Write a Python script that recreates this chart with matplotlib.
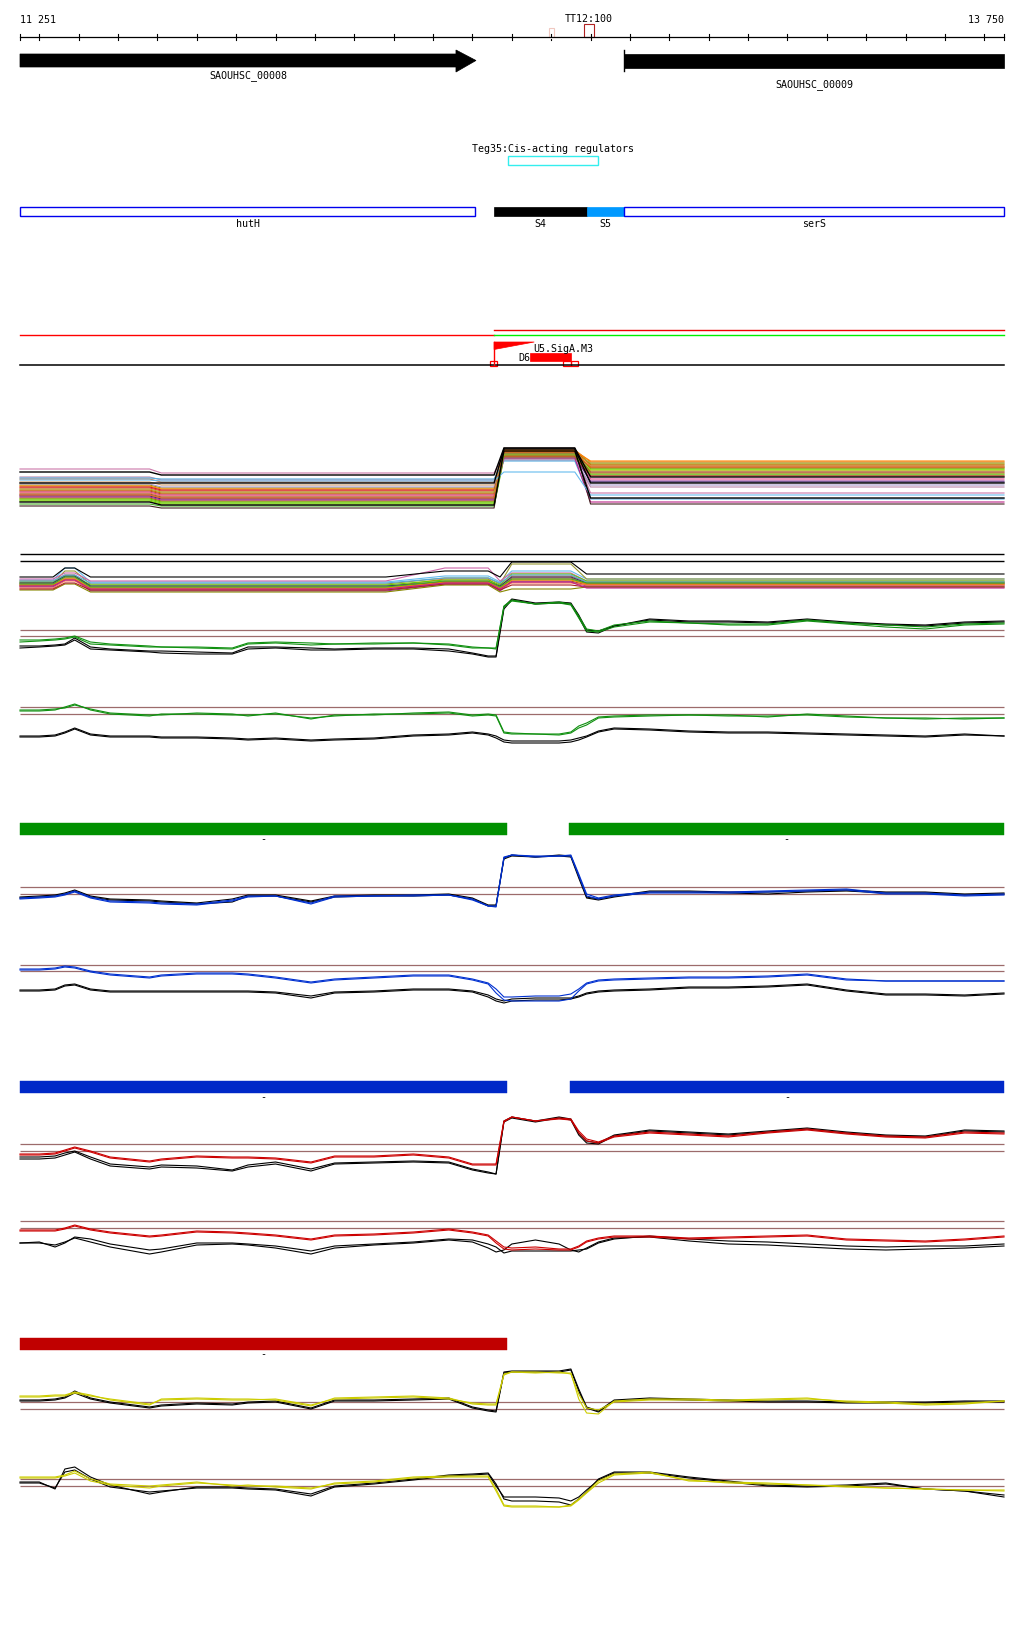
import matplotlib
matplotlib.use('Agg')
import matplotlib.pyplot as plt
from matplotlib.patches import Rectangle, Polygon

# ---------------- data ----------------
START, END = 11251, 13750
TICKS = list(range(11300, 13701, 100))
MARK_TT12 = (12683, 12709)
MARK_FAINT = (12594, 12607)

GENE_NAMES = ["SAOUHSC_00008", "SAOUHSC_00009"]
GENE_START = [11251, 12785]
GENE_END = [12409, 13750]

FEAT_NAMES = ["hutH", "S4", "S5", "serS"]
FEAT_START = [11251, 12455, 12691, 12785]
FEAT_END = [12407, 12691, 12785, 13750]
FEAT_STYLE = ["outline", "black", "lightblue", "outline"]

TEG_NAME = "Teg35:Cis-acting regulators"
TEG_START, TEG_END = 12490, 12719

PROM_POS = 12455
PROM_FLAG_END = 12557
D6_START, D6_END = 12546, 12650
SMALL_BOXES = [(12445, 12463), (12630, 12650), (12650, 12668)]

BAR_GREEN = [(11251, 12488), (12645, 13750)]
BAR_BLUE = [(11251, 12488), (12648, 13750)]
BAR_RED = [(11251, 12488)]

# common x grid (bp) for the profile tracks
X = [11251, 11300, 11340, 11365, 11390, 11430, 11480, 11580, 11610, 11700,
     11790, 11830, 11900, 11990, 12050, 12150, 12250, 12340, 12400, 12440,
     12460, 12480, 12500, 12560, 12620, 12650, 12670, 12690, 12720, 12760,
     12850, 12950, 13050, 13150, 13250, 13350, 13450, 13550, 13650, 13750]

G1_green_a = [19,19,20,21,23,17,15,13,12,12,11,16,17,16,15,16,16,15,12,11,11,53,59,55,57,55,43,30,28,34,38,36,35,35,39,36,34,32,35,36]
G1_green_b = [17,18,19,20,22,15,14,12,12,11,10,15,16,14,15,15,16,14,11,11,10,52,58,55,56,54,41,28,27,32,37,36,34,34,38,35,32,30,34,35]
G1_black_a = [13,13,14,15,21,12,10,8,8,7,6,12,12,11,10,11,11,10,6,3,3,52,60,56,57,56,44,29,28,33,40,38,38,37,40,37,35,34,37,38]
G1_black_b = [11,12,13,14,19,10,9,7,6,5,5,10,11,9,9,10,10,8,5,2,2,50,59,55,56,55,42,27,26,33,39,37,37,36,39,36,34,33,36,37]

G2_green_a = [39,39,40,41,44,40,36,34,34,36,35,33,36,30,34,34,36,37,34,35,34,17,16,15,15,17,23,26,32,33,34,34,34,32,35,33,31,30,31,31]
G2_green_b = [38,38,39,42,45,39,35,33,35,35,34,34,35,31,33,35,35,36,33,34,33,16,15,15,14,16,21,24,31,32,33,34,33,33,34,32,31,31,30,31]
G2_black_a = [13,13,14,17,21,15,13,13,12,12,11,10,11,9,10,11,14,15,17,15,13,9,8,8,8,9,11,13,18,21,20,18,17,17,16,15,14,13,15,13]
G2_black_b = [12,12,13,16,20,14,12,12,11,11,10,9,10,8,9,10,13,14,16,14,11,7,6,6,6,7,9,12,17,20,19,17,16,16,15,14,13,12,14,13]

B1_blue_a = [11,12,13,15,18,12,8,7,6,5,9,13,13,6,13,13,14,14,10,3,3,52,54,53,53,54,35,15,11,14,17,17,17,18,19,20,16,16,14,15]
B1_blue_b = [10,11,12,14,17,11,7,6,5,4,8,12,13,5,12,13,13,14,9,3,2,51,54,52,53,53,33,13,10,13,16,16,16,17,18,19,15,15,13,14]
B1_black_a = [12,13,14,16,19,13,10,9,8,6,10,14,14,8,13,14,14,15,11,4,4,51,54,52,54,53,33,12,10,13,18,18,17,17,18,19,17,17,15,16]
B1_black_b = [11,12,13,15,18,12,9,8,7,5,7,13,13,7,12,13,13,14,10,3,3,50,53,52,53,52,31,11,9,12,17,17,16,15,17,18,16,16,14,15]

B2_blue_a = [40,40,41,43,42,38,35,32,34,36,36,35,32,27,30,32,34,34,30,26,20,12,12,13,13,15,20,26,29,30,31,32,32,33,35,30,28,28,28,28]
B2_blue_b = [39,39,40,42,41,37,34,31,33,35,35,34,31,26,29,31,33,33,29,25,16,9,8,8,8,10,18,25,28,29,30,31,31,32,34,29,28,28,28,28]
B2_black_a = [19,19,20,24,25,20,18,18,18,18,18,18,17,13,17,18,20,20,18,14,10,8,10,11,11,11,13,16,18,19,20,22,22,23,25,19,15,15,14,16]
B2_black_b = [18,18,19,23,24,19,17,17,17,17,17,17,16,11,16,17,19,19,17,12,8,6,8,9,9,10,12,15,17,18,19,21,21,22,24,18,14,14,13,15]

R1_red_a = [25,25,26,29,32,28,22,18,20,23,22,22,21,17,23,23,25,22,15,15,15,58,62,58,61,60,48,40,37,43,47,45,43,47,50,46,43,42,47,46]
R1_red_b = [24,24,25,28,31,27,21,17,19,22,21,21,20,16,22,22,24,21,14,14,14,57,62,58,60,59,46,38,36,42,46,44,42,46,49,45,42,41,46,45]
R1_black_a = [22,22,23,26,28,22,15,12,14,13,9,14,17,10,16,17,18,17,10,7,5,58,62,58,62,60,46,38,36,44,49,47,45,48,51,47,44,43,49,48]
R1_black_b = [20,20,21,24,27,20,13,10,12,11,8,12,15,8,15,16,17,16,9,6,5,57,61,57,61,59,44,36,35,43,48,46,44,47,50,46,43,42,48,47]

R2_red_a = [34,34,34,36,39,35,32,28,29,33,32,31,29,25,29,30,32,35,32,29,23,17,16,17,15,15,18,23,26,28,28,26,27,28,29,25,24,23,25,28]
R2_red_b = [33,33,33,35,38,34,31,27,28,32,31,30,28,24,28,29,31,34,31,28,21,15,14,15,14,14,17,22,25,27,27,25,26,27,28,24,23,22,24,27]
R2_black_a = [21,22,17,21,27,25,20,14,15,21,21,20,18,13,18,20,22,25,24,20,17,11,13,13,13,13,14,15,21,25,28,25,23,22,20,18,17,18,18,20]
R2_black_b = [21,21,19,22,26,22,17,10,12,19,20,19,16,10,16,19,21,24,22,16,12,14,20,24,20,14,12,16,22,26,27,23,20,19,17,15,14,15,16,18]

Y1_yellow_a = [28,28,29,29,32,29,24,19,25,26,25,25,24,18,26,27,28,26,20,19,19,49,52,52,51,51,25,11,10,23,25,25,24,25,26,22,21,19,20,23]
Y1_yellow_b = [27,27,28,28,31,28,25,20,24,25,24,24,25,19,25,26,27,25,21,20,20,50,52,51,52,50,30,16,14,22,24,24,23,24,25,23,22,20,21,23]
Y1_black_a = [24,24,25,27,33,26,22,17,19,21,20,22,23,16,24,24,25,26,17,14,13,52,53,53,53,55,35,17,13,24,26,25,24,23,23,22,22,22,23,23]
Y1_black_b = [23,23,24,26,31,25,21,16,18,20,19,21,22,15,23,23,24,25,16,13,12,51,52,52,52,54,33,16,12,23,25,24,23,22,22,21,21,21,22,22]

Y2_yellow_a = [42,42,42,44,48,40,35,33,34,37,33,34,32,30,36,38,42,43,43,43,30,14,13,13,12,14,20,27,38,45,47,38,37,36,34,33,31,30,29,29]
Y2_yellow_b = [41,41,41,43,46,38,34,31,33,36,34,33,33,31,35,37,41,42,42,42,28,13,12,12,12,13,19,26,36,44,46,39,36,35,34,32,31,30,29,28]
Y2_black_a = [37,37,30,50,52,42,34,25,27,32,32,31,30,25,33,36,40,44,45,46,35,20,18,18,17,14,20,27,40,47,47,42,38,34,33,34,36,30,28,22]
Y2_black_b = [36,36,31,47,49,40,32,27,28,31,31,30,29,23,32,35,39,43,44,45,33,22,22,22,21,18,22,29,39,46,46,41,37,33,32,33,35,30,28,24]

# multi-series bundle 1: (colour, left level, left level after 11600, middle level, right level)
BUNDLE1_X = [11251, 11580, 11610, 12455, 12480, 12660, 12700, 13750]
BUNDLE1 = [
    ("#cc77aa", 45, 41, 60, 21), ("#e07030", 35, 32, 64, 52), ("#999900", 29, 26, 63, 50),
    ("#66cc00", 15, 12, 61, 45), ("#aa5522", 23, 20, 59, 47), ("#ee3333", 26, 23, 62, 41),
    ("#993399", 19, 16, 57, 33), ("#cc9966", 32, 29, 55, 48), ("#333366", 18, 15, 60, 32),
    ("#ff7755", 21, 18, 58, 43), ("#44aa22", 10, 8, 56, 39), ("#bb88aa", 37, 34, 54, 27),
    ("#cc6600", 24, 21, 64, 49), ("#888800", 16, 13, 62, 46), ("#ff8800", 28, 25, 63, 53),
    ("#dd4488", 22, 19, 59, 35), ("#88dd00", 13, 10, 57, 44), ("#aa99cc", 30, 27, 55, 29),
    ("#996633", 20, 17, 61, 42), ("#cc2222", 27, 24, 58, 38), ("#55aadd", 36, 35, 53, 15),
    ("#bb2288", 17, 14, 56, 12), ("#aaaa33", 25, 22, 60, 51), ("#ee6622", 19, 16, 62, 47),
    ("#442222", 8, 6, 66, 10), ("#77cc11", 14, 11, 59, 40), ("#66bbee", 34, 33, 42, 19),
    ("#000000", 42, 39, 66, 37), ("#000000", 31, 31, 65, 31), ("#000000", 12, 9, 63, 16),
]

# multi-series bundle 2: (colour, A, bump, B, pre-peak, middle, right)
BUNDLE2_X = [11251, 11335, 11365, 11390, 11430, 12180, 12330, 12440, 12470, 12500, 12650, 12690, 13750]
BUNDLE2 = [
    ("#66bbee", 19, 31, 17, 23, 28, 20), ("#999933", 16, 28, 15, 21, 35, 20),
    ("#cc66aa", 20, 26, 18, 31, 26, 18), ("#e07030", 18, 24, 12, 20, 23, 17),
    ("#dd3333", 14, 22, 10, 17, 21, 15), ("#66cc00", 17, 23, 14, 19, 25, 18),
    ("#aa5522", 13, 20, 9, 16, 18, 14), ("#cc9966", 15, 21, 11, 18, 20, 16),
    ("#993399", 12, 19, 8, 15, 17, 13), ("#333366", 16, 23, 13, 17, 22, 16),
    ("#888800", 9, 15, 7, 14, 10, 12), ("#ff7755", 11, 18, 10, 16, 16, 14),
    ("#55aadd", 18, 24, 16, 21, 24, 17), ("#ee8800", 14, 20, 11, 17, 19, 15),
    ("#aa2222", 10, 16, 9, 15, 14, 12), ("#44aa22", 15, 22, 12, 18, 20, 16),
    ("#bb2288", 13, 19, 10, 16, 17, 11), ("#000000", 22, 31, 22, 28, 37, 25),
]
BUNDLE2_REF = [45, 38]

THRESH_G1 = [29, 23]
THRESH_G2 = [42, 35]
THRESH_B1 = [22, 15]
THRESH_B2 = [44, 38]
THRESH_R1 = [35, 28]
THRESH_R2 = [43, 36]
THRESH_Y1 = [22, 15]
THRESH_Y2 = [40, 33]

# ---------------- drawing ----------------
W, H = 1024, 1640
PX0, PX1 = 20, 1004
BPP = (END - START) / (PX1 - PX0)
XLIM = (START - PX0 * BPP, START + (W - PX0) * BPP)
MONO = "DejaVu Sans Mono"
FS = 7.2
BROWN = "#9c6b6b"
LW = 0.8

fig = plt.figure(figsize=(W / 100, H / 100), dpi=100)
ax = fig.add_axes([0, 0, 1, 1])
ax.set_xlim(XLIM)
ax.set_ylim(H, 0)
ax.axis('off')


def px(n):
    return n * BPP


# ruler
ax.text(START, 20, "11 251", fontsize=FS, family=MONO, ha='left', va='center')
ax.text(END, 20, "13 750", fontsize=FS, family=MONO, ha='right', va='center')
ax.text((MARK_TT12[0] + MARK_TT12[1]) / 2, 19, "TT12:100", fontsize=FS, family=MONO, ha='center', va='center')
ax.plot([START, END], [38, 38], color='black', lw=0.9)
for t in [START] + TICKS + [END]:
    if t == 12600:
        ax.plot([t, t], [35, 36.5], color='black', lw=0.8)
        ax.plot([t, t], [39.5, 41], color='black', lw=0.8)
    else:
        ax.plot([t, t], [35, 41], color='black', lw=0.8)
ax.add_patch(Rectangle((MARK_TT12[0], 25), MARK_TT12[1] - MARK_TT12[0], 13, fill=False, ec='#b02020', lw=0.8))
ax.add_patch(Rectangle((MARK_FAINT[0], 29), MARK_FAINT[1] - MARK_FAINT[0], 9, fill=False, ec='#f0c8c0', lw=0.8))

# genes
g0s, g0e = GENE_START[0], GENE_END[0]
ax.add_patch(Polygon([(g0s, 55), (g0e - px(20), 55), (g0e - px(20), 51), (g0e, 61.5),
                      (g0e - px(20), 73), (g0e - px(20), 68), (g0s, 68)], closed=True, fc='black', ec='black', lw=0.5))
ax.text((g0s + g0e) / 2, 76, GENE_NAMES[0], fontsize=FS, family=MONO, ha='center', va='center')
g1s, g1e = GENE_START[1], GENE_END[1]
ax.add_patch(Rectangle((g1s, 55), g1e - g1s, 13.5, fc='black', ec='black', lw=0.5))
ax.plot([g1s, g1s], [51, 72], color='black', lw=1.0)
ax.text((g1s + g1e) / 2, 85, GENE_NAMES[1], fontsize=FS, family=MONO, ha='center', va='center')

# Teg35
ax.text((TEG_START + TEG_END) / 2, 149, TEG_NAME, fontsize=FS, family=MONO, ha='center', va='center')
ax.add_patch(Rectangle((TEG_START, 156.5), TEG_END - TEG_START, 9.5, fill=False, ec='#33eeee', lw=1.0))

# feature row
for name, s, e, st in zip(FEAT_NAMES, FEAT_START, FEAT_END, FEAT_STYLE):
    if st == "outline":
        ax.add_patch(Rectangle((s, 207.5), e - s, 9.5, fill=False, ec='#0000ee', lw=1.0))
    elif st == "black":
        ax.add_patch(Rectangle((s, 207.5), e - s, 9.5, fc='black', ec='black', lw=0.5))
    else:
        ax.add_patch(Rectangle((s, 207.5), e - s, 9.5, fc='#0099ff', ec='#0099ff', lw=0.5))
    ax.text((s + e) / 2, 224, name, fontsize=FS, family=MONO, ha='center', va='center')

# regulatory lines
ax.plot([START, PROM_POS], [336, 336], color='#ff0000', lw=1.0)
ax.plot([PROM_POS, END], [336, 336], color='#00ee00', lw=1.0)
ax.plot([PROM_POS, END], [331, 331], color='#ee0000', lw=1.0)
ax.plot([START, END], [366, 366], color='black', lw=1.1)
ax.add_patch(Polygon([(PROM_POS, 343), (PROM_FLAG_END, 343), (PROM_POS, 350.5)], closed=True,
                     fc='#ff0000', ec='#ff0000', lw=0.5))
ax.plot([PROM_POS, PROM_POS], [343, 366], color='#ff0000', lw=1.0)
ax.text(PROM_FLAG_END - px(1), 349, "U5.SigA.M3", fontsize=FS, family=MONO, ha='left', va='center')
ax.add_patch(Rectangle((D6_START, 353.5), D6_END - D6_START, 8.5, fc='#ff0000', ec='#ff0000', lw=0.5))
ax.text(D6_START, 358, "D6", fontsize=FS, family=MONO, ha='right', va='center')
for s, e in SMALL_BOXES:
    ax.add_patch(Rectangle((s, 362), e - s, 4.5, fill=False, ec='#ff0000', lw=0.9))

# coloured bars
for bars, col, y0 in [(BAR_GREEN, '#009000', 824), (BAR_BLUE, '#0028c8', 1082), (BAR_RED, '#c00000', 1339)]:
    for s, e in bars:
        ax.add_patch(Rectangle((s, y0), e - s, 11.5, fc=col, ec=col, lw=0.3))
        ax.text((s + e) / 2, y0 + 15, "-", fontsize=FS, family=MONO, ha='center', va='center')


def track_ax(top, bottom):
    a = fig.add_axes([0, 1 - bottom / H, 1, (bottom - top) / H])
    a.set_xlim(XLIM)
    a.set_ylim(0, bottom - top)
    a.axis('off')
    a.patch.set_alpha(0)
    return a


# bundle 1
a1 = track_ax(440, 515)
for col, l1, l2, m, r in BUNDLE1:
    a1.plot(BUNDLE1_X, [l1, l1, l2, l2, m, m, r, r], color=col, lw=LW if col != '#000000' else 1.0,
            zorder=3 if col == '#000000' else 2)

# bundle 2
a2 = track_ax(550, 600)
a2.hlines(BUNDLE2_REF, START, END, color='black', lw=1.0)
for col, a, b, c, d, m, r in BUNDLE2:
    a2.plot(BUNDLE2_X, [a, a, b, b, c, c, d, d, c, m, m, r, r], color=col, lw=LW,
            zorder=3 if col == '#000000' else 2)

tracks = [
    ((595, 660), THRESH_G1, [(G1_black_a, 'black'), (G1_black_b, 'black'), (G1_green_a, '#109010'), (G1_green_b, '#109010')]),
    ((700, 750), THRESH_G2, [(G2_black_a, 'black'), (G2_black_b, 'black'), (G2_green_a, '#109010'), (G2_green_b, '#109010')]),
    ((850, 910), THRESH_B1, [(B1_black_a, 'black'), (B1_black_b, 'black'), (B1_blue_a, '#0030d0'), (B1_blue_b, '#0030d0')]),
    ((960, 1010), THRESH_B2, [(B2_black_a, 'black'), (B2_black_b, 'black'), (B2_blue_a, '#0030d0'), (B2_blue_b, '#0030d0')]),
    ((1105, 1180), THRESH_R1, [(R1_black_a, 'black'), (R1_black_b, 'black'), (R1_red_a, '#cc0000'), (R1_red_b, '#cc0000')]),
    ((1215, 1265), THRESH_R2, [(R2_black_a, 'black'), (R2_black_b, 'black'), (R2_red_a, '#cc0000'), (R2_red_b, '#cc0000')]),
    ((1360, 1425), THRESH_Y1, [(Y1_black_a, 'black'), (Y1_black_b, 'black'), (Y1_yellow_a, '#cccc00'), (Y1_yellow_b, '#cccc00')]),
    ((1455, 1520), THRESH_Y2, [(Y2_black_a, 'black'), (Y2_black_b, 'black'), (Y2_yellow_a, '#cccc00'), (Y2_yellow_b, '#cccc00')]),
]
for (top, bottom), thr, series in tracks:
    ta = track_ax(top, bottom)
    ta.hlines(thr, START, END, color=BROWN, lw=0.9, zorder=1)
    for vals, col in series:
        ta.plot(X, vals, color=col, lw=LW, zorder=2)

fig.savefig('out.png', dpi=100)
